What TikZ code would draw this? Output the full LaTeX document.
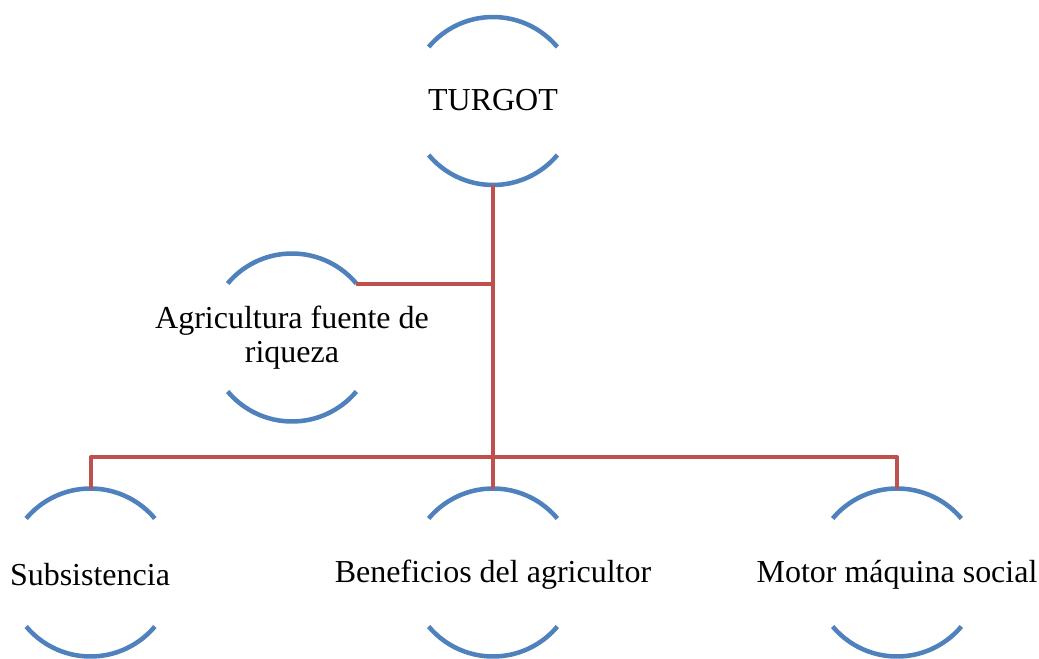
\documentclass[tikz,border=0pt]{standalone}
\usepackage{fontspec}
\setmainfont{Liberation Serif}
\begin{document}
\begin{tikzpicture}[x=0.75pt,y=0.75pt,
  holder/.style={circle,minimum size=126pt,inner sep=0pt,outer sep=0pt},
  lbl/.style={inner sep=0pt,align=center,font=\fontsize{24}{25.5}\selectfont},
  arcst/.style={draw={rgb,255:red,79;green,129;blue,189},line width=3.4pt},
  link/.style={draw={rgb,255:red,192;green,80;blue,77},line width=3pt,line join=round}]
\useasboundingbox (0,0) rectangle (1039,658);
% shape holders
\node[holder] (T) at (493,557) {};
\node[holder] (A) at (292,320.5) {};
\node[holder] (S) at (90.5,85.5) {};
\node[holder] (B) at (493,85.5) {};
\node[holder] (M) at (897,85.5) {};
% arcs
\foreach \n in {T,A,S,B,M}{
  \draw[arcst] ([shift={(40:84)}]\n.center) arc[start angle=40,end angle=140,radius=84];
  \draw[arcst] ([shift={(220:84)}]\n.center) arc[start angle=220,end angle=320,radius=84];
}
% labels
\node[lbl] (Tt) at (493,558) {TURGOT};
\node[lbl] (At) at (292,320) {Agricultura fuente de\\riqueza};
\node[lbl] (St) at (90,83) {Subsistencia};
\node[lbl] (Bt) at (493,83) {Beneficios del agricultor};
\node[lbl] (Mt) at (897,83) {Motor máquina social};
% connectors
\coordinate (J) at (493,201);
\draw[link] (T.south) -- (B.north);
\draw[link] (A.40) -- (A.40 -| T.south);
\draw[link] (S.north) -- (S.north |- J) -- (M.north |- J) -- (M.north);
\end{tikzpicture}
\end{document}
